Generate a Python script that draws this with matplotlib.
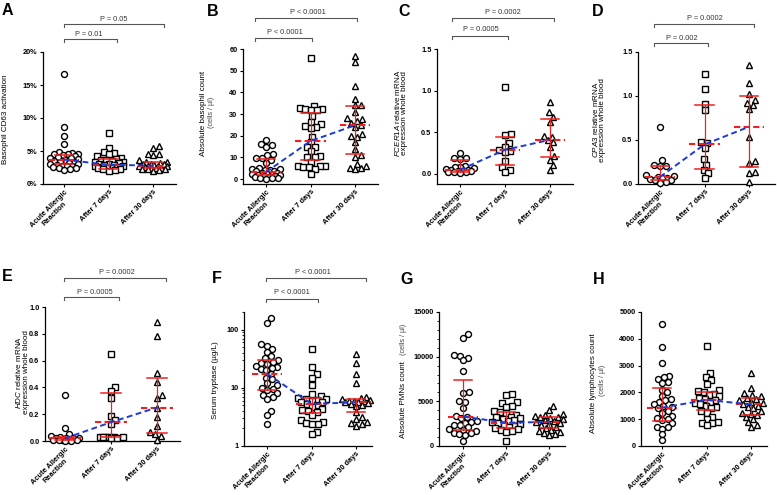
import numpy as np
import matplotlib
matplotlib.use('Agg')
import matplotlib.pyplot as plt
from matplotlib.lines import Line2D
import matplotlib.transforms as mtransforms
from matplotlib.ticker import FixedLocator, NullFormatter, LogLocator, MultipleLocator

plt.rcParams['font.family'] = ['Liberation Sans', 'DejaVu Sans']
plt.rcParams['mathtext.fontset'] = 'custom'
plt.rcParams['mathtext.it'] = 'Liberation Sans:italic'
plt.rcParams['mathtext.rm'] = 'Liberation Sans'

# ---------------- data ----------------
GROUPS = ['Acute Allergic\nReaction', 'After 7 days', 'After 30 days']

# A: Basophil CD63 activation (%)
A_acute = [16.7, 8.7, 7.3, 6.1, 4.8, 4.7, 4.6, 4.6, 4.5, 4.4, 4.2, 4.1, 4.0, 3.9, 3.8, 3.7,
           3.5, 3.4, 3.3, 3.2, 3.1, 3.0, 2.9, 2.8, 2.8, 2.7, 2.6, 2.5, 2.4, 2.2, 2.1]
A_d7 = [7.7, 5.5, 4.9, 4.7, 4.5, 4.2, 3.9, 3.8, 3.7, 3.6, 3.5, 3.4, 3.3, 3.2, 3.1, 3.0, 2.9,
        2.9, 2.8, 2.7, 2.6, 2.6, 2.5, 2.5, 2.4, 2.3, 2.2, 2.1, 2.0]
A_d30 = [5.8, 5.5, 4.6, 4.5, 4.4, 3.6, 3.4, 3.3, 3.2, 3.1, 3.0, 3.0, 2.9, 2.8, 2.8, 2.7, 2.7,
         2.6, 2.5, 2.5, 2.4, 2.3, 2.3, 2.2, 2.1, 2.0]
A_median = [3.7, 2.9, 2.8]
A_q1 = [3.0, 2.3, 2.5]
A_q3 = [4.4, 3.8, 3.4]
A_yticks = [0, 5, 10, 15, 20]
A_yticklabels = ['0%', '5%', '10%', '15%', '20%']

# B: Absolute basophil count
B_acute = [18, 16, 15.5, 15, 11.5, 11, 9.5, 9.5, 9, 7.5, 5, 4.5, 4.5, 4, 4, 3.5, 3.5, 3, 3,
           2.5, 2.5, 2, 2, 2, 1.5, 1.5, 1, 1, 0.5, 0.5, 0.3, 0.2]
B_d7 = [56, 33.5, 33, 32.5, 32.5, 32, 32, 29, 26.5, 25.5, 24.5, 24, 23.5, 19.5, 17, 15, 15,
        13, 10.5, 10, 10, 8, 6, 6, 6, 5.5, 5.5, 4.5, 2.5]
B_d30 = [57, 54, 43, 37, 34, 34, 31, 28, 27.5, 27, 26, 25, 24, 21, 20, 19.5, 17, 14, 11, 10,
         7, 6, 5, 5, 4.5]
B_median = [3.2, 17.5, 24.8]
B_q1 = [1.8, 9.0, 11.5]
B_q3 = [9.3, 30.5, 33.5]
B_yticks = [0, 10, 20, 30, 40, 50, 60]
B_yticklabels = ['0', '10', '20', '30', '40', '50', '60']

# C: FCER1A relative mRNA
C_acute = [0.25, 0.19, 0.19, 0.18, 0.10, 0.09, 0.08, 0.07, 0.06, 0.05, 0.05, 0.04, 0.04,
           0.04, 0.03, 0.03, 0.02, 0.01]
C_d7 = [1.05, 0.48, 0.47, 0.37, 0.33, 0.29, 0.28, 0.26, 0.16, 0.09, 0.05, 0.03]
C_d30 = [0.87, 0.74, 0.69, 0.63, 0.46, 0.45, 0.41, 0.38, 0.32, 0.22, 0.17, 0.11, 0.05]
C_median = [0.05, 0.29, 0.41]
C_q1 = [0.03, 0.11, 0.20]
C_q3 = [0.17, 0.45, 0.66]
C_yticks = [0.0, 0.5, 1.0, 1.5]
C_yticklabels = ['0.0', '0.5', '1.0', '1.5']

# D: CPA3 relative mRNA
D_acute = [0.65, 0.27, 0.22, 0.21, 0.21, 0.10, 0.09, 0.08, 0.07, 0.07, 0.06, 0.05, 0.04,
           0.02, 0.01]
D_d7 = [1.25, 1.08, 0.91, 0.84, 0.48, 0.47, 0.41, 0.28, 0.22, 0.16, 0.12, 0.07]
D_d30 = [1.35, 1.15, 1.02, 0.96, 0.92, 0.90, 0.85, 0.53, 0.26, 0.24, 0.14, 0.13, 0.02]
D_median = [0.08, 0.45, 0.65]
D_q1 = [0.05, 0.17, 0.19]
D_q3 = [0.21, 0.90, 1.00]
D_yticks = [0.0, 0.5, 1.0, 1.5]
D_yticklabels = ['0.0', '0.5', '1.0', '1.5']

# E: HDC relative mRNA
E_acute = [0.34, 0.10, 0.05, 0.04, 0.03, 0.02, 0.02, 0.02, 0.02, 0.01, 0.01, 0.01, 0.01,
           0.005, 0.0, 0.0]
E_d7 = [0.65, 0.40, 0.37, 0.32, 0.19, 0.16, 0.13, 0.03, 0.03, 0.03, 0.03, 0.03, 0.02, 0.02,
        0.03]
E_d30 = [0.89, 0.78, 0.51, 0.44, 0.34, 0.32, 0.25, 0.18, 0.11, 0.07, 0.05, 0.04, 0.01]
E_median = [0.02, 0.14, 0.25]
E_q1 = [0.01, 0.03, 0.06]
E_q3 = [0.03, 0.36, 0.47]
E_yticks = [0.0, 0.2, 0.4, 0.6, 0.8, 1.0]
E_yticklabels = ['0.0', '0.2', '0.4', '0.6', '0.8', '1.0']

# F: Serum tryptase (log scale)
F_acute = [155, 130, 56, 52, 46, 41, 35, 32, 30, 28, 27, 26, 24, 23, 22, 21, 20, 17.5, 15,
           14, 12, 11, 10, 9.5, 9, 8, 7.5, 7, 6.5, 4, 3.4, 2.4]
F_d7 = [46, 23, 17, 15, 11, 7.7, 7.1, 6.8, 6.5, 6.3, 6.1, 6.0, 5.8, 5.6, 5.3, 5.0, 4.7, 4.3,
        4.1, 4.0, 3.8, 3.4, 2.8, 2.6, 2.5, 2.4, 2.4, 1.75, 1.6]
F_d30 = [38, 27, 17, 12, 7.0, 6.6, 6.4, 6.2, 6.0, 6.0, 5.9, 5.8, 5.7, 5.5, 5.3, 5.0, 4.8,
         3.8, 3.2, 2.9, 2.6, 2.5, 2.4, 2.2]
F_median = [17.5, 5.3, 5.6]
F_q1 = [9.0, 3.7, 3.8]
F_q3 = [30, 6.8, 6.4]
F_yticks = [1, 10, 100]
F_yticklabels = ['1', '10', '100']

# G: Absolute PMNs count
G_acute = [12500, 12100, 10200, 10100, 9900, 9600, 8400, 6000, 5900, 5000, 4900, 4300, 3400,
           3300, 3100, 2800, 2700, 2600, 2400, 2300, 2100, 1900, 1800, 1700, 1500, 1400,
           1300, 1200, 600]
G_d7 = [5800, 5700, 4900, 4800, 4500, 4400, 3900, 3800, 3700, 3500, 3300, 3200, 3100, 3000,
        2900, 2800, 2700, 2600, 2500, 2400, 2200, 2100, 2000, 1900, 1800, 1700, 1600, 600]
G_d30 = [4500, 4000, 3600, 3500, 3400, 3300, 3200, 3100, 3000, 2900, 2800, 2700, 2600, 2500,
         2300, 2100, 2000, 1800, 1700, 1600, 1400, 1300, 1200]
G_median = [3300, 2600, 2700]
G_q1 = [1800, 2000, 2000]
G_q3 = [7400, 3800, 3200]
G_yticks = [0, 5000, 10000, 15000]
G_yticklabels = ['0', '5000', '10000', '15000']

# H: Absolute lymphocytes count
H_acute = [4550, 3700, 3080, 2620, 2560, 2500, 2400, 2350, 2100, 2000, 1880, 1750, 1700,
           1650, 1550, 1500, 1450, 1400, 1300, 1250, 1130, 1050, 1000, 960, 850, 700, 700,
           650, 430, 220]
H_d7 = [3750, 2720, 2560, 2450, 2300, 2080, 2050, 2000, 1950, 1900, 1850, 1800, 1750, 1700,
        1650, 1600, 1550, 1500, 1450, 1400, 1300, 1250, 1100, 1000, 900, 870, 850, 770]
H_d30 = [2720, 2170, 1980, 1900, 1850, 1800, 1750, 1700, 1650, 1600, 1550, 1500, 1450, 1400,
         1300, 1250, 1200, 1150, 1100, 1000, 900, 800, 720]
H_median = [1430, 1720, 1550]
H_q1 = [940, 1350, 1150]
H_q3 = [2170, 2000, 1800]
H_yticks = [0, 1000, 2000, 3000, 4000, 5000]
H_yticklabels = ['0', '1000', '2000', '3000', '4000', '5000']

# P-value annotations
P_A = ['P = 0.01', 'P = 0.05']
P_B = ['P < 0.0001', 'P < 0.0001']
P_C = ['P = 0.0005', 'P = 0.0002']
P_D = ['P = 0.002', 'P = 0.0002']
P_E = ['P = 0.0005', 'P = 0.0002']
P_F = ['P < 0.0001', 'P < 0.0001']

# ---------------- figure ----------------
W, H = 777, 495
fig = plt.figure(figsize=(W / 100, H / 100), dpi=100)
PX = mtransforms.Affine2D().scale(1 / W, -1 / H).translate(0, 1) + fig.transFigure

RED = '#f0201e'
BLUE = '#1c3ad8'
GRAY = '#555555'
TICK_FS = 5.3
LAB_FS = 5.8


def swarm_offsets(ypx, d, maxw):
    """Beeswarm-like horizontal offsets (pixels), limited to +-maxw."""
    ypx = np.asarray(ypx, float)
    order = np.argsort(ypx)
    xs = np.zeros(len(ypx))
    cands = [0.0]
    k = 1
    while k * 0.5 <= maxw:
        cands += [k * 0.5, -k * 0.5]
        k += 1
    cands = np.array(cands)
    px_l, py_l = [], []
    for i in order:
        y = ypx[i]
        if px_l:
            pa = np.array(px_l)
            pb = np.array(py_l)
            dist = np.sqrt((cands[:, None] - pa[None, :]) ** 2 + (pb[None, :] - y) ** 2)
            mind = dist.min(axis=1)
            ok = np.where(mind >= d)[0]
            if len(ok):
                xs[i] = cands[ok[0]]
            else:
                xs[i] = cands[np.argmax(mind)]
        px_l.append(xs[i])
        py_l.append(y)
    return xs


def make_panel(L, R, T, B, t0, t2, ylim, groups, med, q1, q3, yticks, yticklabels,
               log=False, minor=None):
    ax = fig.add_axes([L / W, 1 - B / H, (R - L) / W, (B - T) / H])
    s = (t2 - t0) / 2.0
    ax.set_xlim(-(t0 - L) / s, 2 + (R - t2) / s)
    if log:
        ax.set_yscale('log')
    ax.set_ylim(*ylim)
    if log:
        sy = (B - T) / (np.log10(ylim[1]) - np.log10(ylim[0]))
    else:
        sy = (B - T) / (ylim[1] - ylim[0])
    markers = [('o', 4.3), ('s', 4.0), ('^', 4.6)]
    for gi, vals in enumerate(groups):
        v = np.asarray(vals, float)
        ypx = (np.log10(v) if log else v) * sy
        offs = swarm_offsets(ypx, 5.6, 14.0) / s
        m, ms = markers[gi]
        ax.plot(gi + offs, v, linestyle='none', marker=m, ms=ms, mfc='white', mec='black',
                mew=1.0, clip_on=False, zorder=3)
    for i in range(3):
        ax.plot([i - 0.34, i + 0.34], [med[i], med[i]], color=RED, lw=1.5,
                ls=(0, (3, 1.6)), zorder=5, clip_on=False)
        ax.plot([i - 0.21, i + 0.21], [q1[i], q1[i]], color=RED, lw=1.1, zorder=5,
                clip_on=False)
        ax.plot([i - 0.21, i + 0.21], [q3[i], q3[i]], color=RED, lw=1.1, zorder=5,
                clip_on=False)
        ax.plot([i, i], [q1[i], q3[i]], color=RED, lw=0.9, zorder=5, clip_on=False)
    ax.plot([0, 1, 2], med, color=BLUE, lw=1.4, ls=(0, (3, 1.8)), zorder=6, clip_on=False)

    for sp in ['top', 'right']:
        ax.spines[sp].set_visible(False)
    for sp in ['left', 'bottom']:
        ax.spines[sp].set_linewidth(0.9)
    ax.set_xticks([0, 1, 2])
    ax.set_xticklabels(GROUPS, rotation=45, ha='right', va='top', rotation_mode='anchor',
                       fontsize=TICK_FS, fontweight='bold', multialignment='center',
                       linespacing=1.1)
    ax.yaxis.set_major_locator(FixedLocator(yticks))
    ax.set_yticklabels(yticklabels, fontsize=TICK_FS, fontweight='bold')
    if log:
        ax.yaxis.set_minor_locator(LogLocator(base=10, subs=np.arange(2, 10)))
        ax.yaxis.set_minor_formatter(NullFormatter())
    elif minor is not None:
        ax.yaxis.set_minor_locator(MultipleLocator(minor))
    else:
        ax.yaxis.set_minor_locator(FixedLocator([]))
    ax.tick_params(axis='y', which='major', direction='out', length=2.5, width=0.8,
                   pad=1.5)
    ax.tick_params(axis='x', which='major', direction='out', length=2.5, width=0.8,
                   pad=0.8)
    ax.tick_params(axis='y', which='minor', direction='out', length=1.5, width=0.6)
    ax.patch.set_alpha(0)
    return ax


make_panel(43, 176, 52, 184, 64, 153, (0, 20), [A_acute, A_d7, A_d30],
           A_median, A_q1, A_q3, A_yticks, A_yticklabels)
make_panel(243, 378, 49, 184, 266, 355, (-2.3, 60), [B_acute, B_d7, B_d30],
           B_median, B_q1, B_q3, B_yticks, B_yticklabels)
make_panel(437, 573, 49, 184, 460, 550, (-0.12, 1.5), [C_acute, C_d7, C_d30],
           C_median, C_q1, C_q3, C_yticks, C_yticklabels)
make_panel(638, 775, 52, 184, 660, 749, (0, 1.5), [D_acute, D_d7, D_d30],
           D_median, D_q1, D_q3, D_yticks, D_yticklabels)
make_panel(45, 180, 307, 441, 65, 157, (0, 1.0), [E_acute, E_d7, E_d30],
           E_median, E_q1, E_q3, E_yticks, E_yticklabels)
make_panel(244, 372, 312, 446, 267, 356, (1, 200), [F_acute, F_d7, F_d30],
           F_median, F_q1, F_q3, F_yticks, F_yticklabels, log=True)
make_panel(439, 565, 312, 446, 463, 549, (0, 15000), [G_acute, G_d7, G_d30],
           G_median, G_q1, G_q3, G_yticks, G_yticklabels, minor=1000)
make_panel(641, 767, 312, 446, 662, 751, (0, 5000), [H_acute, H_d7, H_d30],
           H_median, H_q1, H_q3, H_yticks, H_yticklabels)

# ---------------- annotations (pixel positions) ----------------
def ptext(x, y, s, **kw):
    fig.text(x, y, s, transform=PX, **kw)


def vlabel(x, y, s, fs=LAB_FS, color='black'):
    ptext(x, y, s, rotation=90, ha='center', va='center', fontsize=fs, color=color)


def bracket(x1, x2, y, tx, ty, s):
    fig.add_artist(Line2D([x1, x1, x2, x2], [y + 3, y, y, y + 3], transform=PX,
                          color=GRAY, lw=0.8))
    ptext(tx, ty, s, ha='center', va='center', fontsize=5.3, color='#333333')


for letter, x, y in [('A', 2, 3), ('B', 207, 4), ('C', 398, 4), ('D', 592, 4),
                     ('E', 2, 269), ('F', 212, 271), ('G', 400, 272), ('H', 593, 272)]:
    ptext(x, y, letter, ha='left', va='top', fontsize=11.5, fontweight='bold')

vlabel(5.5, 119, 'Basophil CD63 activation')
vlabel(203.5, 113, 'Absolute basophil count')
vlabel(211.5, 112, '(cells / µl)', fs=5.2, color='#444444')
vlabel(397, 113, r'$\mathit{FCER1A}$ relative mRNA')
vlabel(405, 113, 'expression whole blood')
vlabel(595, 120, r'$\mathit{CPA3}$ relative mRNA')
vlabel(603, 120, 'expression whole blood')
vlabel(18.5, 372, r'$\mathit{HDC}$ relative mRNA')
vlabel(26.5, 372, 'expression whole blood')
vlabel(215.5, 380, 'Serum tryptase (µg/L)')
vlabel(403.5, 400, 'Absolute PMNs count')
vlabel(403.5, 339.5, '(cells / µl)', fs=5.2, color='#444444')
vlabel(593.5, 383, 'Absolute lymphocytes count')
vlabel(603, 380, '(cells / µl)', fs=5.2, color='#444444')

bracket(64, 117, 39, 89, 34.5, P_A[0])
bracket(64, 164, 24, 114, 19.5, P_A[1])
bracket(255, 312, 38, 285, 32, P_B[0])
bracket(255, 357, 18, 308, 13, P_B[1])
bracket(452, 508, 36, 481, 29.5, P_C[0])
bracket(452, 554, 18, 503, 13, P_C[1])
bracket(654, 708, 43, 682, 38, P_D[0])
bracket(654, 754, 24, 705, 19, P_D[1])
bracket(64, 119, 297, 95, 292, P_E[0])
bracket(64, 166, 278, 117, 273, P_E[1])
bracket(266, 318, 299, 292, 293, P_F[0])
bracket(266, 366, 278, 313, 273, P_F[1])

fig.savefig('out.png', dpi=100)
